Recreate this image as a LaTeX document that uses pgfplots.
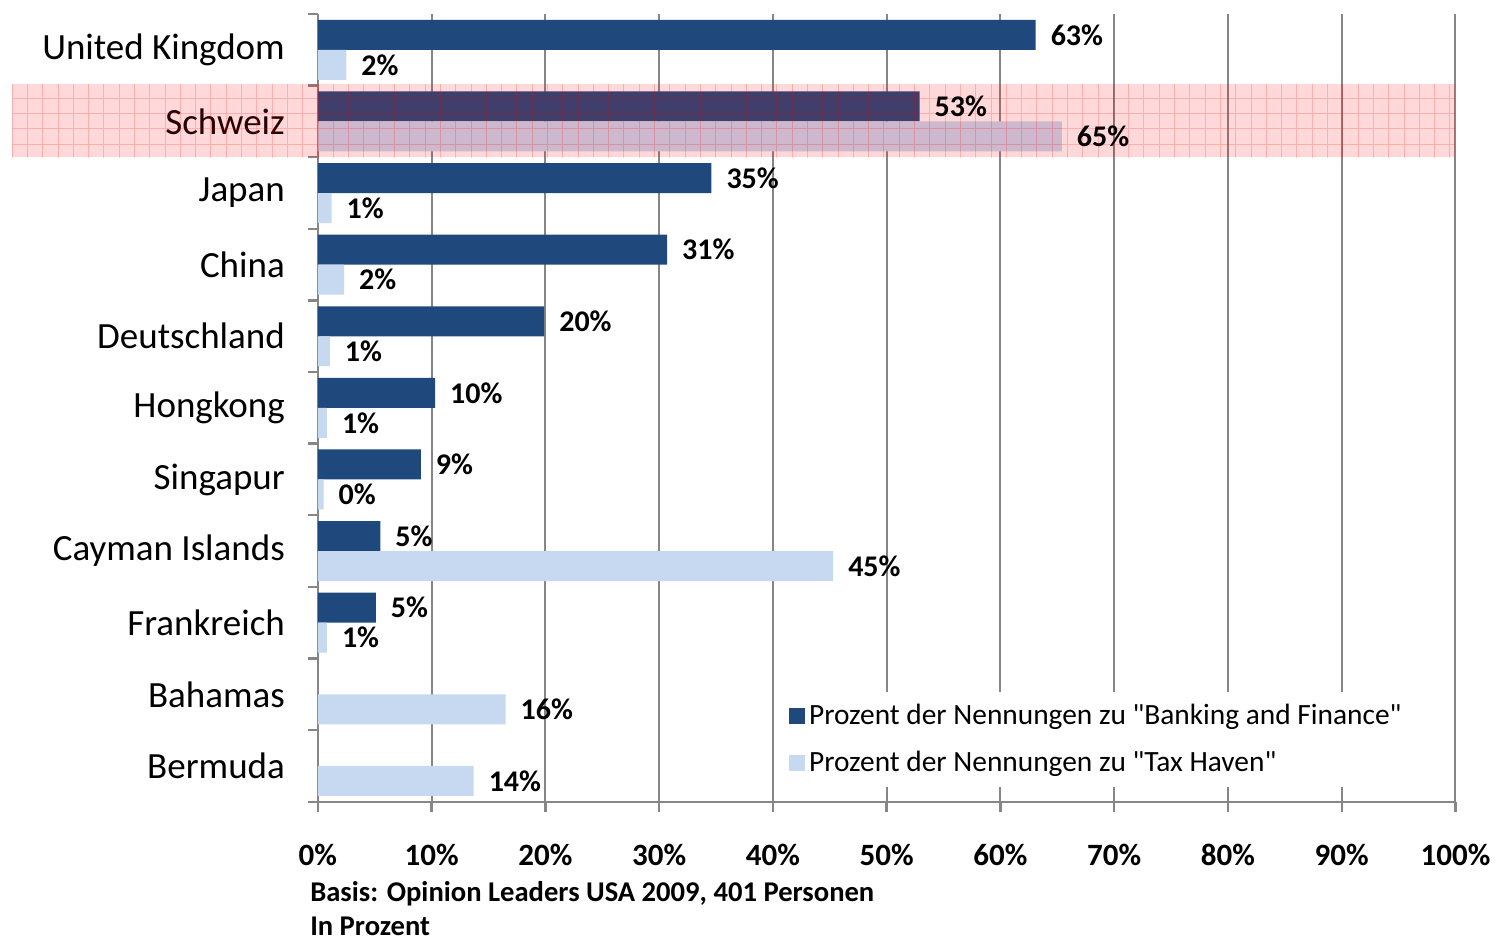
\documentclass[border=0pt]{standalone}
\usepackage{pgfplots}
\pgfplotsset{compat=1.18}
\usepackage{fontspec}
\setmainfont{Carlito}[Ligatures=TeXOff]
\definecolor{bankblue}{HTML}{1F497D}
\definecolor{taxblue}{HTML}{C6D9F1}
\definecolor{gridgray}{HTML}{868686}
\begin{document}
\begin{tikzpicture}
\begin{axis}[
  scale only axis,
  width=569pt, height=394pt,
  xmin=0, xmax=100,
  ymin=-0.5, ymax=10.5,
  xbar, bar width=15pt,
  axis x line*=bottom, axis y line*=left,
  axis line style={gridgray, line width=1.2pt},
  xtick={0,10,...,100},
  xticklabel={\pgfmathprintnumber{\tick}\%},
  xticklabel style={font=\bfseries\fontsize{15.5}{18}\selectfont, yshift=-12.5pt},
  /pgf/number format/assume math mode=true,
  xmajorgrids, grid style={gridgray, line width=1pt},
  tick align=outside,
  major tick length=5pt,
  tick style={gridgray, line width=1.2pt},
  ytick={-0.5,0.5,...,10.5},
  yticklabels={},
  extra y ticks={0,...,10},
  extra y tick labels={Bermuda,Bahamas,Frankreich,Cayman Islands,Singapur,Hongkong,Deutschland,China,Japan,Schweiz,United Kingdom},
  extra y tick style={tick style={draw=none}, yticklabel style={font=\fontsize{18.5}{21}\selectfont, xshift=-8pt}},
  clip=false,
  nodes near coords={\pgfplotspointmeta\%},
  point meta=explicit symbolic,
  nodes near coords style={anchor=west, font=\bfseries\fontsize{15}{18}\selectfont, xshift=4pt},
  legend style={at={(0.4016,0.1396)}, anchor=north west, draw=none, fill=white,
    font=\fontsize{14.7}{17}\selectfont, inner xsep=7pt, inner ysep=4pt, row sep=8pt},
  legend cell align=left,
  legend image code/.code={\fill[#1] (0pt,-4pt) rectangle (8pt,4pt);},
]
\addplot[fill=bankblue, draw=none, bar shift=7.5pt] table[x=x, y=y, meta=m] {
x y m
63.1 10 63
52.9 9 53
34.6 8 35
30.7 7 31
19.9 6 20
10.3 5 10
9.05 4 9
5.5 3 5
5.1 2 5
};
\addlegendentry{Prozent der Nennungen zu "Banking and Finance"}
\addplot[fill=taxblue, draw=none, bar shift=-7.5pt] table[x=x, y=y, meta=m] {
x y m
2.5 10 2
65.4 9 65
1.2 8 1
2.3 7 2
1.05 6 1
0.8 5 1
0.5 4 0
45.3 3 45
0.8 2 1
16.5 1 16
13.7 0 14
};
\addlegendentry{Prozent der Nennungen zu "Tax Haven"}
% highlight band over Schweiz
\begin{scope}
\clip (axis cs:-26.9,8.5) rectangle (axis cs:100,9.52);
\fill[red, opacity=0.15] (axis cs:-26.9,8.5) rectangle (axis cs:100,9.52);
\draw[red, opacity=0.2, line width=0.3pt, step=7.65pt] (axis cs:-27,8.4) grid (axis cs:101,9.6);
\end{scope}
% footnote
\node[anchor=north west, align=left, inner sep=0pt, font=\bfseries\fontsize{14.3}{17.3}\selectfont]
  at (rel axis cs:-0.007,-0.1005) {Basis: Opinion Leaders USA 2009, 401 Personen\\In Prozent};
% bounding box
\path (rel axis cs:-0.2794,1.01777) rectangle (rel axis cs:1.0360,-0.17893);
\end{axis}
\end{tikzpicture}
\end{document}
